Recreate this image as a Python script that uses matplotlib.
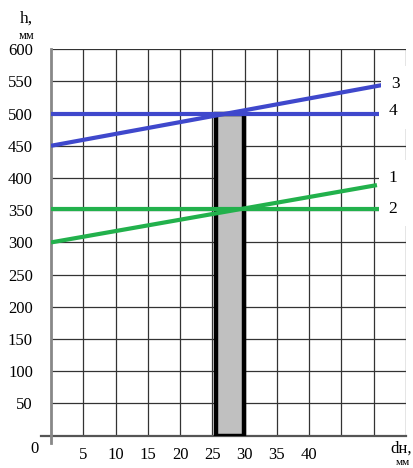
import numpy as np
import matplotlib.pyplot as plt
from matplotlib.patches import Rectangle

plt.rcParams['font.family'] = ['Liberation Serif', 'DejaVu Serif']

# diameter d, mm and height h, mm
d_grid = list(range(0, 56, 5))
h_grid = list(range(0, 601, 50))
d_labels = ['', '5', '10', '15', '20', '25', '30', '35', '40', '', '', '']
h_labels = ['', '50', '100', '150', '200', '250', '300', '350', '400', '450', '500', '550', '600']

# rising lines 1 and 3, flat lines 2 and 4
line1_d = [0, 50.5]
line1_h = [300, 389]
line2_d = [0, 55]
line2_h = [352, 352]
line3_d = [0, 51.7]
line3_h = [450, 545]
line4_d = [0, 55]
line4_h = [500, 500]

# shaded band
band_d = [25.6, 29.9]
band_h = 500

blue = '#3f48cc'
green = '#22b14c'

fig = plt.figure(figsize=(4.14, 4.68), dpi=100)
ax = fig.add_axes([0.1232, 0.069, 0.8575, 0.826])
ax.set_xlim(0, 55)
ax.set_ylim(0, 600)

for x in d_grid[1:]:
    ax.axvline(x, color='#333333', lw=0.9, zorder=1)
for y in h_grid[1:]:
    ax.axhline(y, color='#333333', lw=0.9, zorder=1)

for s in ax.spines.values():
    s.set_visible(False)
# axes drawn as a cross extending past the origin
ax.plot([-1.6, 55], [0, 0], color='#555555', lw=1.6, clip_on=False, zorder=2)
ax.plot([0, 0], [-12, 600], color='#888888', lw=2.0, clip_on=False, zorder=2)

ax.add_patch(Rectangle((band_d[0], 0), band_d[1] - band_d[0], band_h,
                       facecolor='#c0c0c0', edgecolor='black', lw=3.2, zorder=3))

ax.plot(line1_d, line1_h, color=green, lw=3, solid_capstyle='butt', zorder=4)
ax.plot(line2_d, line2_h, color=green, lw=3, solid_capstyle='butt', zorder=4)
ax.plot(line3_d, line3_h, color=blue, lw=3, solid_capstyle='butt', zorder=4)
ax.plot(line4_d, line4_h, color=blue, lw=3, solid_capstyle='butt', zorder=4)

box = dict(facecolor='white', edgecolor='none', boxstyle='square,pad=0.55')
ax.text(53.0, 400, '1', fontsize=12.5, ha='center', va='center', bbox=box, zorder=5)
ax.text(53.0, 352, '2', fontsize=12.5, ha='center', va='center', bbox=box, zorder=5)
ax.text(53.3, 546, '3', fontsize=12.5, ha='center', va='center', bbox=box, zorder=5)
ax.text(53.0, 504, '4', fontsize=12.5, ha='center', va='center', bbox=box, zorder=5)

ax.set_xticks(d_grid)
ax.set_xticklabels(d_labels)
ax.set_yticks(h_grid)
ax.set_yticklabels(h_labels)
ax.tick_params(axis='both', length=0, labelsize=12)
ax.tick_params(axis='x', pad=8)
ax.tick_params(axis='y', pad=13)

ax.text(-2.5, -21, '0', fontsize=12, ha='center', va='center', clip_on=False)
ax.text(-3.8, 648, 'h,', fontsize=12.5, ha='center', va='center', clip_on=False)
ax.text(-3.8, 621, 'мм', fontsize=9, ha='center', va='center', clip_on=False)
ax.text(54.3, -20, 'dн,', fontsize=12, ha='center', va='center', clip_on=False)
ax.text(54.5, -41, 'мм', fontsize=8, ha='center', va='center', clip_on=False)

fig.savefig('out.png', dpi=100)
